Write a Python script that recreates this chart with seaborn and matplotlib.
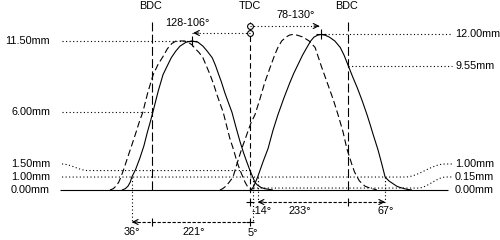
import numpy as np
import matplotlib
matplotlib.use("Agg")
import matplotlib.pyplot as plt
import seaborn as sns
import pandas as pd

# ---------------- data (crank degrees relative to overlap TDC, lift in mm) ----------------
exh_deg = [-234, -228, -223, -219, -216, -209, -201, -194, -188, -182, -177, -168, -159, -151, -144, -136,
           -128, -117, -106, -95, -86, -78, -69, -63, -58, -52, -46, -40, -33, -26, -18, -12, -7, 0, 5, 9,
           13, 20, 27, 42]
exh_lift = [0.0, 0.1, 0.3, 0.6, 1.0, 1.6, 2.5, 3.4, 4.4, 5.3, 6.1, 7.6, 8.9, 9.6, 10.2, 10.7,
            11.1, 11.4, 11.5, 11.4, 11.1, 10.7, 10.2, 9.6, 9.0, 8.3, 7.5, 6.8, 6.0, 4.9, 3.7, 2.9, 2.3, 1.5, 1.0, 0.6,
            0.4, 0.2, 0.1, 0.0]

exh_alt_deg = [-256, -250, -245, -240, -236, -230, -223, -215, -208, -202, -196, -187, -177, -168, -159, -151,
               -143, -135, -128, -120, -113, -106, -100, -93, -86, -80, -73, -66, -60, -55, -49, -43, -37, -30,
               -24, -18, -13, -9, -5, 0, 4]
exh_alt_lift = [0.0, 0.1, 0.3, 0.6, 1.0, 1.7, 2.6, 3.6, 4.5, 5.3, 6.0, 7.5, 8.9, 9.7, 10.3, 10.9,
                11.3, 11.5, 11.5, 11.5, 11.4, 11.2, 10.9, 10.6, 10.2, 9.6, 8.9, 8.1, 7.3, 6.7, 6.0, 5.0, 4.0, 3.1,
                2.2, 1.5, 1.0, 0.6, 0.3, 0.1, 0.0]

int_deg = [0, 4, 7, 10, 14, 19, 24, 33, 42, 51, 62, 73, 80, 88, 96, 104, 111, 117, 124, 130, 137, 145,
           155, 165, 172, 180, 188, 196, 205, 214, 220, 225, 234, 241, 247, 254, 261, 268, 274, 287, 296]
int_lift = [0.0, 0.1, 0.3, 0.6, 1.0, 1.6, 2.2, 3.2, 4.6, 5.8, 7.1, 8.3, 9.0, 9.7, 10.4, 11.0, 11.5, 11.8, 11.95, 12.0, 11.95, 11.8,
            11.5, 11.0, 10.4, 9.55, 8.7, 7.9, 6.9, 5.8, 5.0, 4.3, 3.1, 2.0, 1.0, 0.7, 0.5, 0.3, 0.2, 0.05, 0.0]

int_alt_deg = [-55, -50, -44, -38, -31, -24, -15, -4, 2, 9, 18, 27, 38, 45, 51, 58, 66, 72, 78, 86, 97, 108,
               119, 130, 141, 152, 161, 170, 177, 186, 191, 196, 200, 205, 210, 216, 224, 232]
int_alt_lift = [0.0, 0.1, 0.3, 0.6, 1.0, 2.0, 3.2, 4.5, 5.2, 5.8, 7.0, 8.3, 9.6, 10.4, 11.0, 11.5, 11.8, 11.95, 12.0, 11.95, 11.8, 11.5,
                11.0, 9.6, 8.3, 7.0, 5.8, 4.5, 3.2, 2.0, 1.4, 1.0, 0.7, 0.5, 0.3, 0.2, 0.1, 0.0]

left_levels = [11.50, 6.00, 1.50, 1.00, 0.00]
right_levels = [12.00, 9.55, 1.00, 0.15, 0.00]
dead_centres = [("BDC", -180), ("TDC", 0), ("BDC", 180)]
exh_peaks = [-128, -106]
int_peaks = [78, 130]
exh_open, exh_close = -216, 5       # 36° BBDC, 5° ATDC
int_open, int_close = 14, 247       # -14° BTDC, 67° ABDC

# ---------------- figure ----------------
sns.set_theme(style="white")
plt.rcParams['font.family'] = ['Liberation Sans', 'DejaVu Sans']
plt.rcParams['lines.solid_capstyle'] = 'butt'

PX_DEG = 0.547
PX_MM = 12.96
fig = plt.figure(figsize=(5, 2.4), dpi=100)
ax = fig.add_axes([0, 0, 1, 1])
ax.set_xlim(-250 / PX_DEG, 250 / PX_DEG)
ax.set_ylim(-(240 - 190) / PX_MM, 190 / PX_MM)
ax.axis('off')


def px(xp):
    return (xp - 250) / PX_DEG


def py(yp):
    return (190 - yp) / PX_MM


K = 'black'
LW = 0.8
FS = 7.8
DOT = (1, 2.2)

# lift curves
df = pd.concat([
    pd.DataFrame({'deg': exh_deg, 'lift': exh_lift, 'cam': 'exh'}),
    pd.DataFrame({'deg': exh_alt_deg, 'lift': exh_alt_lift, 'cam': 'exh_alt'}),
    pd.DataFrame({'deg': int_deg, 'lift': int_lift, 'cam': 'int'}),
    pd.DataFrame({'deg': int_alt_deg, 'lift': int_alt_lift, 'cam': 'int_alt'}),
])
for cam, dash in [('exh', None), ('int', None), ('exh_alt', (6, 3)), ('int_alt', (6, 3))]:
    sub = df[df.cam == cam]
    sns.lineplot(data=sub, x='deg', y='lift', ax=ax, color=K, lw=LW, sort=False, legend=False)
    line = ax.lines[-1]
    if dash:
        line.set_dashes(dash)

# baseline
ax.plot([px(60), px(448)], [0, 0], color=K, lw=LW)


def smooth_leader(x0, y0, x1, y1, n=20):
    t = np.linspace(0, 1, n)
    s = t * t * (3 - 2 * t)
    return x0 + (x1 - x0) * t, y0 + (y1 - y0) * s


def dotted(x, y):
    ln, = ax.plot(x, y, color=K, lw=LW)
    ln.set_dashes(DOT)


xl0 = px(62)
xr1 = px(452)
# left level lines
dotted([xl0, exh_peaks[1]], [left_levels[0]] * 2)
dotted([xl0, -180], [left_levels[1]] * 2)
lx, ly = smooth_leader(xl0, py(164), px(88), left_levels[2])
dotted(list(lx) + [0], list(ly) + [left_levels[2]])
# 1.00 mm line running across, leader up to right label
rx, ry = smooth_leader(px(405), right_levels[2], px(445), py(164))
dotted([xl0] + list(rx) + [xr1], [left_levels[3]] + list(ry) + [py(164)])
# 0.15 line
rx, ry = smooth_leader(px(418), right_levels[3], px(446), py(177))
dotted([0] + list(rx) + [xr1], [right_levels[3]] + list(ry) + [py(177)])
# right level lines
dotted([int_peaks[1], xr1], [right_levels[0]] * 2)
dotted([180, xr1], [right_levels[1]] * 2)

# left labels
left_label_y = [left_levels[0], left_levels[1], py(164), left_levels[3], left_levels[4]]
for v, yy in zip(left_levels, left_label_y):
    ax.text(px(50), yy, f"{v:.2f}mm", ha='right', va='center', fontsize=FS, color=K)
right_label_y = [right_levels[0], right_levels[1], py(164), py(177), right_levels[4]]
for v, yy in zip(right_levels, right_label_y):
    ax.text(px(455), yy, f"{v:.2f}mm", ha='left', va='center', fontsize=FS, color=K)

# dead centre lines
for name, d in dead_centres:
    top = py(22) if name == 'BDC' else py(36)
    ln, = ax.plot([d, d], [top, py(193)], color=K, lw=LW)
    ln.set_dashes((8, 3) if name == 'BDC' else (5, 3))
    ax.text(d + (-2 if d < 0 else (-3 if d > 0 else 0)), py(6), name, ha='center', va='center', fontsize=FS, color=K)

# TDC markers and peak arrows
ax.plot([0, 0], [py(22), py(37)], color=K, lw=LW)
ax.plot([0, 0], [py(26), py(33)], ls='none', marker='o', ms=4.2, mfc='white', mec=K, mew=LW)
yl, yr = py(33), py(26)
dotted([0, exh_peaks[1]], [yl, yl])
dotted([0, int_peaks[1]], [yr, yr])
ah = dict(arrowstyle='->,head_length=0.3,head_width=0.15', lw=LW, color=K, shrinkA=0, shrinkB=0)
ax.annotate('', xy=(exh_peaks[1] + 2, yl), xytext=(exh_peaks[1] + 12, yl), arrowprops=ah)
ax.annotate('', xy=(int_peaks[1] - 3, yr), xytext=(int_peaks[1] - 13, yr), arrowprops=ah)
ax.plot([exh_peaks[1], int_peaks[1]], [max(exh_lift), max(int_lift)], ls='none', marker='+', ms=7, mew=LW, color=K)
ax.text(px(187), py(23), f"{abs(exh_peaks[0])}-{abs(exh_peaks[1])}°", ha='center', va='center', fontsize=FS, color=K)
ax.text(px(296), py(15), f"{int_peaks[0]}-{int_peaks[1]}°", ha='center', va='center', fontsize=FS, color=K)

# timing event verticals
yA, yB = py(202), py(222)
dotted([exh_open, exh_open], [1.0, yB])
dotted([exh_close, exh_close], [1.0, yB])
dotted([int_open, int_open], [1.0, yA])
dotted([int_close, int_close], [1.0, yA])


# duration arrows
def dashed(x, y):
    ln, = ax.plot(x, y, color=K, lw=LW)
    ln.set_dashes((3, 1.5))


dashed([exh_open, exh_close], [yB, yB])
dashed([int_open, int_close], [yA, yA])
ax.annotate('', xy=(exh_open, yB), xytext=(exh_open + 10, yB), arrowprops=ah)
ax.annotate('', xy=(int_open, yA), xytext=(int_open + 10, yA), arrowprops=ah)
ax.annotate('', xy=(int_close, yA), xytext=(int_close - 10, yA), arrowprops=ah)
tick = 4 / PX_MM
for yy in (yA, yB):
    ax.plot([0], [yy], marker='+', ms=6, mew=LW, color=K)
ax.plot([-180, -180], [yB - tick, yB + tick], color=K, lw=LW)
ax.plot([180, 180], [yA - tick, yA + tick], color=K, lw=LW)

exh_dur = exh_close - exh_open
int_dur = int_close - int_open
ax.text(exh_open, py(232), f"{-180 - exh_open}°", ha='center', va='center', fontsize=FS, color=K)
ax.text(px(194), py(232), f"{exh_dur}°", ha='center', va='center', fontsize=FS, color=K)
ax.text(exh_close, py(233), f"{exh_close}°", ha='center', va='center', fontsize=FS, color=K)
ax.text(px(262), py(211), f"-{int_open}°", ha='center', va='center', fontsize=FS, color=K)
ax.text(px(300), py(211), f"{int_dur}°", ha='center', va='center', fontsize=FS, color=K)
ax.text(px(386), py(211), f"{int_close - 180}°", ha='center', va='center', fontsize=FS, color=K)

fig.savefig('out.png', dpi=100, facecolor='white')
